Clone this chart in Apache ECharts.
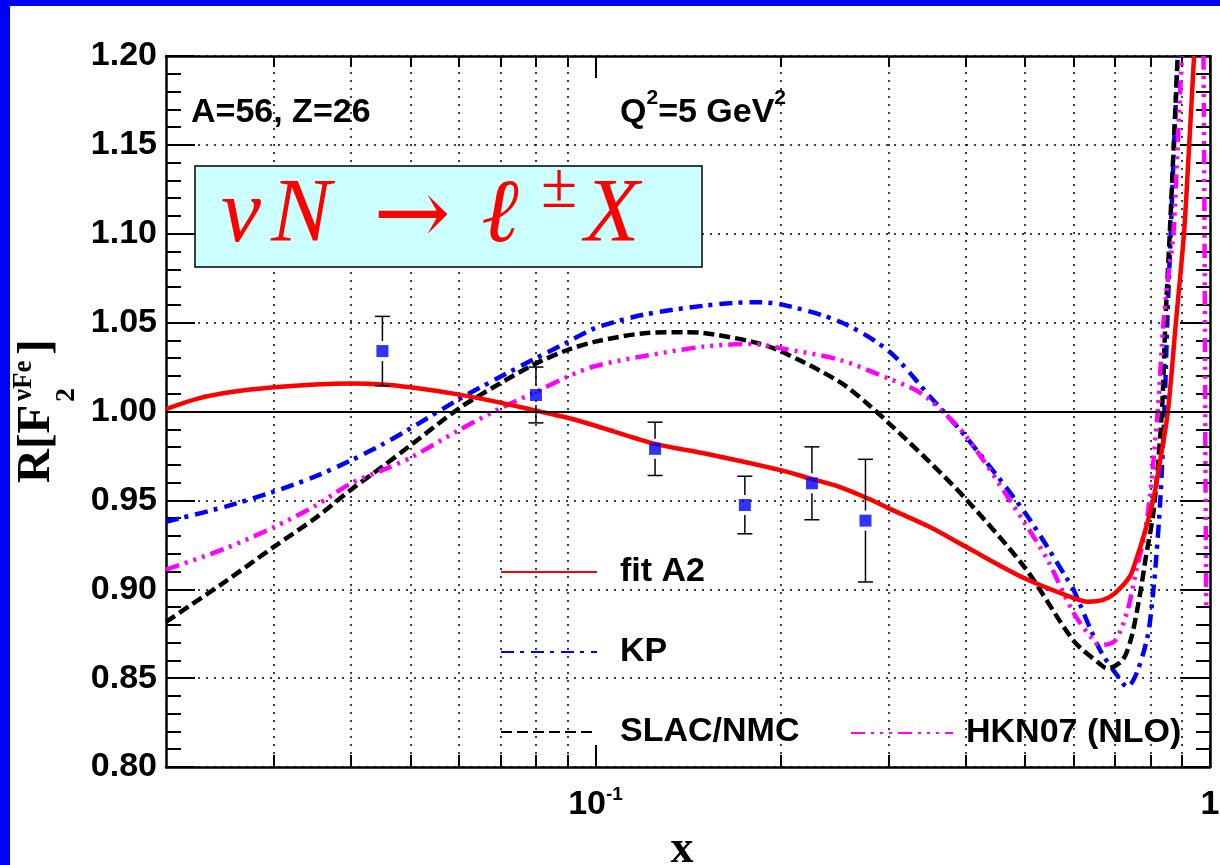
<!DOCTYPE html>
<html>
<head>
<meta charset="utf-8">
<script src="https://cdn.jsdelivr.net/npm/echarts@6.0.0/dist/echarts.min.js"></script>
<style>
  html, body { margin: 0; padding: 0; background: #0000ff; }
  #chart { position: absolute; left: 10px; top: 6px; width: 1210px; height: 859px; background: #fff; }
</style>
</head>
<body>
<div id="chart"></div>
<script>
// curves: [x, R]
const fitA2 = [
  [0.02, 1.0014], [0.0226, 1.0074], [0.0257, 1.0111], [0.03, 1.0136], [0.035, 1.0152],
  [0.04, 1.0157], [0.045, 1.0152], [0.05, 1.0136], [0.06, 1.0095], [0.07, 1.005],
  [0.08, 1.0005], [0.09, 0.9965], [0.1, 0.992], [0.125, 0.9818], [0.15, 0.9765],
  [0.2, 0.967], [0.225, 0.962], [0.25, 0.9575], [0.28, 0.9505], [0.3, 0.9455],
  [0.35, 0.935], [0.4, 0.924], [0.5, 0.906], [0.6, 0.895], [0.632, 0.893],
  [0.67, 0.894], [0.7, 0.8977], [0.74, 0.907], [0.758, 0.9165], [0.78, 0.93],
  [0.808, 0.95], [0.83, 0.9727], [0.854, 1.0], [0.88, 1.05], [0.907, 1.10],
  [0.925, 1.15], [0.942, 1.20]
];
const kp = [
  [0.02, 0.938], [0.025, 0.9465], [0.03, 0.955], [0.035, 0.9635], [0.04, 0.9725],
  [0.045, 0.9815], [0.05, 0.9905], [0.06, 1.007], [0.07, 1.0195], [0.08, 1.030],
  [0.09, 1.039], [0.1, 1.047], [0.12, 1.0545], [0.15, 1.0595], [0.18, 1.0615],
  [0.2, 1.0603], [0.25, 1.0505], [0.3, 1.034], [0.35, 1.0085], [0.4, 0.986],
  [0.5, 0.943], [0.585, 0.906], [0.6, 0.8996], [0.662, 0.866], [0.708, 0.851],
  [0.734, 0.845], [0.76, 0.853], [0.792, 0.874], [0.808, 0.898], [0.817, 0.9165],
  [0.83, 0.95], [0.843, 1.0], [0.852, 1.05], [0.863, 1.10], [0.874, 1.15], [0.886, 1.20]
];
const slacNmc = [
  [0.02, 0.8817], [0.0249, 0.904], [0.03, 0.924], [0.035, 0.940], [0.04, 0.956],
  [0.045, 0.969], [0.05, 0.981], [0.06, 1.0018], [0.07, 1.0159], [0.08, 1.027],
  [0.09, 1.0346], [0.1, 1.0393], [0.12, 1.044], [0.14, 1.0446], [0.15, 1.0442],
  [0.18, 1.0392], [0.2, 1.034], [0.25, 1.0165], [0.28, 1.003], [0.3, 0.9935],
  [0.35, 0.9715], [0.4, 0.951], [0.5, 0.912], [0.6, 0.871], [0.662, 0.858],
  [0.68, 0.8555], [0.72, 0.860], [0.745, 0.873], [0.77, 0.898], [0.785, 0.9165],
  [0.81, 0.945], [0.835, 1.0], [0.846, 1.05], [0.86, 1.10], [0.873, 1.15], [0.886, 1.20]
];
const hkn07 = [
  [0.02, 0.911], [0.025, 0.923], [0.03, 0.935], [0.035, 0.947], [0.04, 0.9596],
  [0.045, 0.967], [0.05, 0.974], [0.06, 0.9896], [0.07, 1.0018], [0.08, 1.011],
  [0.09, 1.0196], [0.1, 1.0256], [0.12, 1.0312], [0.15, 1.0365], [0.18, 1.038],
  [0.2, 1.0356], [0.25, 1.029], [0.3, 1.0185], [0.33, 1.0125], [0.35, 1.0065],
  [0.4, 0.9865], [0.5, 0.937], [0.544, 0.9165], [0.6, 0.8866], [0.646, 0.8714],
  [0.662, 0.8686], [0.70, 0.871], [0.734, 0.888], [0.76, 0.912], [0.78, 0.928],
  [0.797, 0.95], [0.822, 1.0], [0.84, 1.05], [0.858, 1.08], [0.872, 1.10],
  [0.886, 1.15], [0.9, 1.20]
];
// second branch of HKN07 coming back down near x = 1
const hkn07Tail = [[0.976, 1.20], [0.979, 1.12], [0.981, 1.05], [0.983, 0.97], [0.986, 0.888]];
// data points: [x, R, error]
const points = [
  [0.045, 1.034, 0.0195], [0.08, 1.0093, 0.0157], [0.125, 0.979, 0.015],
  [0.175, 0.9474, 0.0162], [0.225, 0.9596, 0.0205], [0.275, 0.9386, 0.0345]
];
const gridX = [0.03, 0.04, 0.05, 0.06, 0.07, 0.08, 0.09, 0.2, 0.3, 0.4, 0.5, 0.6, 0.7, 0.8, 0.9];
const majorX = [0.1, 1];
const xMin = 0.02, xMax = 1;
const yMin = 0.8, yMax = 1.2, yStep = 0.05;

const lg = Math.log10;
const font = "'Liberation Sans', Arial, sans-serif";
const serif = "'Liberation Serif', 'Times New Roman', serif";
const black = '#000';
const red = '#ff0000';
const hknDash = [14, 6, 3, 6, 3, 6, 3, 6];

const chart = echarts.init(document.getElementById('chart'));

function curve(name, data, color, type, width) {
  return {
    id: name, name: name, type: 'line', xAxisIndex: 0, yAxisIndex: 0,
    data: data, symbol: 'none', smooth: 0.3, clip: true,
    lineStyle: { color: color, type: type, width: width },
    itemStyle: { color: color }, z: 3
  };
}

function logAxis(pos, ticks, len, extra) {
  return Object.assign({
    type: 'value', position: pos, min: lg(xMin), max: lg(xMax),
    axisLine: { show: false },
    axisTick: { show: true, inside: true, length: len, customValues: ticks.map(lg),
      lineStyle: { color: black, width: 2 } },
    axisLabel: { show: false },
    splitLine: { show: false }
  }, extra || {});
}

function formulaText(x, y, text, size, italic, family) {
  return { type: 'text', x: x, y: y, z: 11,
    style: { text: text, font: (italic ? 'italic ' : '') + size + 'px ' + (family || serif),
      fill: red, align: 'center', verticalAlign: 'middle' } };
}

function titleText(x, y, text, size) {
  return { type: 'text', x: x, y: y,
    style: { text: text, font: 'bold ' + size + 'px ' + serif, fill: black, verticalAlign: 'middle' } };
}

const option = {
  animation: false,
  backgroundColor: '#fff',
  grid: { left: 156, right: 10, top: 50, bottom: 98, outerBoundsMode: 'none', containLabel: false },
  xAxis: [
    { type: 'log', logBase: 10, min: xMin, max: xMax, show: false, position: 'bottom' },
    logAxis('bottom', gridX, 12, {
      axisLine: { show: true, onZero: false, lineStyle: { color: black, width: 2.5 } },
      splitLine: { show: true, lineStyle: { color: black, width: 1.5, type: [2, 6] } }
    }),
    logAxis('bottom', majorX, 22, {
      axisLabel: {
        show: true, customValues: majorX.map(lg), showMaxLabel: true, showMinLabel: true,
        margin: 18,
        formatter: function (v) { return Math.abs(v) < 1e-9 ? '{b|1}' : '{b|10}{s|-1}'; },
        rich: {
          b: { fontSize: 34, fontWeight: 'bold', fontFamily: font, color: black, lineHeight: 40 },
          s: { fontSize: 19, fontWeight: 'bold', fontFamily: font, color: black, lineHeight: 16, verticalAlign: 'top' }
        }
      },
      name: 'x', nameLocation: 'middle', nameGap: 52,
      nameTextStyle: { fontSize: 46, fontWeight: 'bold', fontFamily: serif, color: black, padding: [0, 12, 0, 0] }
    }),
    logAxis('top', gridX, 11, {
      axisLine: { show: true, onZero: false, lineStyle: { color: black, width: 2.5 } }
    }),
    logAxis('top', majorX, 22)
  ],
  yAxis: [
    {
      type: 'value', position: 'left', min: yMin, max: yMax, interval: yStep,
      axisLine: { show: true, onZero: false, lineStyle: { color: black, width: 2.5 } },
      axisTick: { show: true, inside: true, length: 29, lineStyle: { color: black, width: 2 } },
      minorTick: { show: true, splitNumber: 5, length: 15, lineStyle: { color: black, width: 2 } },
      axisLabel: {
        margin: 9, fontSize: 34, fontWeight: 'bold', fontFamily: font, color: black,
        formatter: function (v) { return v.toFixed(2); }
      },
      splitLine: { show: true, lineStyle: { color: black, width: 1.5, type: [2, 6] } }
    },
    {
      type: 'value', position: 'right', min: yMin, max: yMax, interval: yStep,
      axisLine: { show: true, onZero: false, lineStyle: { color: black, width: 2.5 } },
      axisTick: { show: true, inside: true, length: 30, lineStyle: { color: black, width: 2 } },
      minorTick: { show: true, splitNumber: 5, length: 14, lineStyle: { color: black, width: 2 } },
      axisLabel: { show: false },
      splitLine: { show: false }
    }
  ],
  legend: [
    {
      data: ['fit A2', 'KP', 'SLAC/NMC'], orient: 'vertical', left: 490, top: 546,
      itemWidth: 96, itemHeight: 14, itemGap: 40, padding: 0, selectedMode: false,
      itemStyle: { opacity: 0, borderWidth: 0 },
      textStyle: { fontSize: 34, fontWeight: 'bold', fontFamily: font, color: black, lineHeight: 40, padding: [0, 0, 0, 18] }
    },
    {
      data: ['HKN07 (NLO)'], orient: 'vertical', left: 840, top: 707,
      itemWidth: 102, itemHeight: 14, padding: 0, selectedMode: false,
      itemStyle: { opacity: 0, borderWidth: 0 },
      textStyle: { fontSize: 34, fontWeight: 'bold', fontFamily: font, color: black, lineHeight: 40, padding: [0, 0, 0, 8] }
    }
  ],
  series: [
    curve('KP', kp, '#0000ff', [13, 6, 4, 7], 4.5),
    curve('SLAC/NMC', slacNmc, black, [11, 5], 4.5),
    curve('HKN07 (NLO)', hkn07, '#ff00ff', hknDash, 4.5),
    curve('HKN07 tail', hkn07Tail, '#ff00ff', hknDash, 4.5),
    curve('fit A2', fitA2, red, 'solid', 4.5),
    {
      type: 'custom', xAxisIndex: 0, yAxisIndex: 0, z: 4,
      data: points,
      encode: { x: 0, y: 1 },
      renderItem: function (params, api) {
        const x = api.value(0), y = api.value(1), e = api.value(2);
        const hi = api.coord([x, y + e]);
        const mid = api.coord([x, y]);
        const lo = api.coord([x, y - e]);
        const st = { stroke: black, lineWidth: 1.5 };
        const gap = 10;
        return {
          type: 'group',
          children: [
            { type: 'line', shape: { x1: hi[0], y1: hi[1], x2: hi[0], y2: Math.max(hi[1], mid[1] - gap) }, style: st },
            { type: 'line', shape: { x1: lo[0], y1: Math.min(lo[1], mid[1] + gap), x2: lo[0], y2: lo[1] }, style: st },
            { type: 'line', shape: { x1: hi[0] - 7.5, y1: hi[1], x2: hi[0] + 7.5, y2: hi[1] }, style: st },
            { type: 'line', shape: { x1: lo[0] - 7.5, y1: lo[1], x2: lo[0] + 7.5, y2: lo[1] }, style: st }
          ]
        };
      }
    },
    {
      type: 'scatter', xAxisIndex: 0, yAxisIndex: 0, z: 5,
      data: points.map(function (p) { return [p[0], p[1]]; }),
      symbol: 'rect', symbolSize: 12,
      itemStyle: { color: '#0000ff' },
      markLine: {
        silent: true, symbol: ['none', 'none'], label: { show: false },
        lineStyle: { color: black, width: 2, type: 'solid' },
        data: [{ yAxis: 1 }]
      }
    }
  ],
  graphic: { elements: [
    { type: 'text', x: 181, y: 107, z: 10,
      style: { text: 'A=56, Z=26', font: 'bold 34px ' + font, fill: black, verticalAlign: 'middle' } },
    { type: 'text', x: 610, y: 107, z: 10,
      style: {
        text: '{n|Q}{s|2}{n|=5 GeV}{s|2}', verticalAlign: 'middle',
        rich: {
          n: { font: 'bold 34px ' + font, fill: black, lineHeight: 50 },
          s: { font: 'bold 21px ' + font, fill: black, lineHeight: 20, verticalAlign: 'top' }
        }
      } },
    { type: 'rect', shape: { x: 185, y: 160, width: 507, height: 101 }, z: 10,
      style: { fill: '#ccffff', stroke: black, lineWidth: 1.5 } },
    formulaText(231, 211, '\u03bd', 90, true),
    formulaText(291, 211, 'N', 90, true),
    formulaText(402, 214, '\u2192', 92, false, "'DejaVu Serif', serif"),
    formulaText(490, 211, '\u2113', 90, true),
    formulaText(549, 184, '\u00b1', 66, false),
    formulaText(602, 211, 'X', 90, true),
    // y axis title R[F_2^{nu Fe}], read bottom to top
    { type: 'group', x: 27, y: 477, rotation: Math.PI / 2, z: 10,
      children: [
        titleText(0, 0, 'R[F', 47),
        titleText(81, 30, '2', 28),
        titleText(82, -13, '\u03bdFe', 27),
        titleText(128, 0, ']', 47)
      ] }
  ] }
};

chart.setOption(option);
</script>
</body>
</html>
